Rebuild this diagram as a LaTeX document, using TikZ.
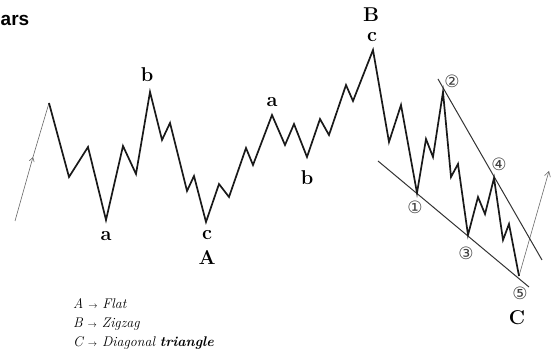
\documentclass[tikz,border=0pt]{standalone}
\usepackage{fontspec}
\newfontfamily\symfont{DejaVu Sans}
\newfontfamily\headfont{Liberation Sans}
\usetikzlibrary{arrows.meta}
\begin{document}
\begin{tikzpicture}[x=1pt,y=-1pt,
 wave/.style={line width=1.7pt, line join=miter, black!90},
 trend/.style={line width=1pt, black!80},
 guide/.style={line width=0.6pt, black!60},
 lbl/.style={font=\fontsize{20}{24}\selectfont\bfseries, inner sep=0pt},
 num/.style={font=\fontsize{17}{19}\selectfont\symfont, text=black!75, inner sep=0pt},
 legend/.style={font=\fontsize{14}{16}\selectfont\itshape, anchor=base west, inner sep=0pt}]
\useasboundingbox (0,0) rectangle (558,358);
% vertices
\coordinate (p0) at (49,103);
\coordinate (p1) at (69,177);
\coordinate (p2) at (88,147);
\coordinate (a1) at (106,220);
\coordinate (p4) at (123,146);
\coordinate (p5) at (136,174);
\coordinate (b1) at (150,92);
\coordinate (p7) at (162,140);
\coordinate (p8) at (170,123);
\coordinate (p9) at (187,191);
\coordinate (p10) at (194,176);
\coordinate (cA) at (206,222);
\coordinate (p12) at (219,184);
\coordinate (p13) at (229,197);
\coordinate (p14) at (246,148);
\coordinate (p15) at (253,165);
\coordinate (a2) at (272,115);
\coordinate (p17) at (285,145);
\coordinate (p18) at (294,124);
\coordinate (b2) at (307,157);
\coordinate (p20) at (320,119);
\coordinate (p21) at (329,135);
\coordinate (p22) at (346,85);
\coordinate (p23) at (353,101);
\coordinate (cB) at (373,50);
\coordinate (p25) at (389,142);
\coordinate (p26) at (401,105);
\coordinate (w1) at (417,193);
\coordinate (p28) at (426,139);
\coordinate (p29) at (433,157);
\coordinate (w2) at (443,92);
\coordinate (p31) at (451,177);
\coordinate (p32) at (458,164);
\coordinate (w3) at (468,235);
\coordinate (p34) at (478,197);
\coordinate (p35) at (485,214);
\coordinate (w4) at (494,178);
\coordinate (p37) at (503,240);
\coordinate (p38) at (509,224);
\coordinate (w5) at (519,276);
% guide arrows
\coordinate (g0) at (15,221);
\coordinate (gm) at (33,157);
\coordinate (g1) at (549,171);
\draw[guide,-{Straight Barb[length=4pt,width=5pt]}] (g0) -- (gm);
\draw[guide] (gm) -- (p0);
\draw[guide,-{Straight Barb[length=5pt,width=6pt]}] (w5) -- (g1);
% trend lines
\coordinate (lo1) at (378,161);
\coordinate (lo2) at (529,287);
\coordinate (up1) at (438,79);
\coordinate (up2) at (542,260);
\draw[trend] (lo1) -- (lo2);
\draw[trend] (up1) -- (up2);
% wave
\draw[wave] (p0) -- (p1) -- (p2) -- (a1) -- (p4) -- (p5) -- (b1) -- (p7) -- (p8)
 -- (p9) -- (p10) -- (cA) -- (p12) -- (p13) -- (p14) -- (p15) -- (a2) -- (p17)
 -- (p18) -- (b2) -- (p20) -- (p21) -- (p22) -- (p23) -- (cB) -- (p25) -- (p26)
 -- (w1) -- (p28) -- (p29) -- (w2) -- (p31) -- (p32) -- (w3) -- (p34) -- (p35)
 -- (w4) -- (p37) -- (p38) -- (w5);
% labels
\node[anchor=west, inner sep=0pt, font=\fontsize{19}{23}\selectfont\headfont\bfseries] (title) at (0.5,20) {ars};
\node[lbl] (la1) at (106,236) {a};
\node[lbl] (lb1) at (147,75) {b};
\node[lbl] (lc1) at (207,235.5) {c};
\node[lbl] (lA) at (207,258) {A};
\node[lbl] (la2) at (272,102) {a};
\node[lbl] (lb2) at (307,178) {b};
\node[lbl] (lB) at (371,15) {B};
\node[lbl] (lc2) at (372,37) {c};
\node[lbl] (lC) at (517,318) {C};
\node[num] (n1) at (415,207) {①};
\node[num] (n2) at (452,81) {②};
\node[num] (n3) at (466,253) {③};
\node[num] (n4) at (499,164) {④};
\node[num] (n5) at (520,293) {⑤};
% legend
\node[legend] (l1) at (73,309) {A {\small$\rightarrow$} Flat};
\node[legend] (l2) at (73,328) {B {\small$\rightarrow$} Zigzag};
\node[legend] (l3) at (73,347) {C {\small$\rightarrow$} Diagonal \textbf{triangle}};
\end{tikzpicture}
\end{document}
